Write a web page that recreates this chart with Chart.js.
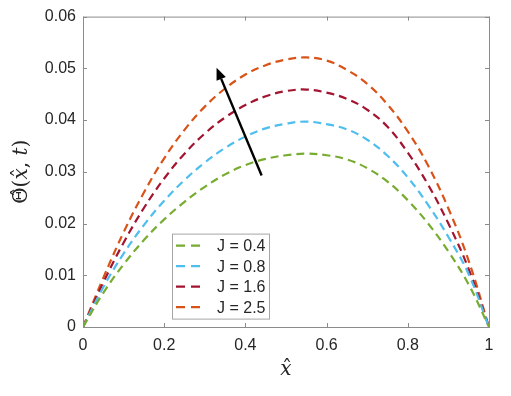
<!DOCTYPE html>
<html>
<head>
<meta charset="utf-8">
<script src="https://cdn.jsdelivr.net/npm/chart.js@4.4.1/dist/chart.umd.min.js"></script>
<style>
  html, body { margin: 0; padding: 0; background: #fff; }
  #wrap { width: 511px; height: 396px; }
</style>
</head>
<body>
<div id="wrap"><canvas id="theta"></canvas></div>
<script>
var xs = [0, 0.05, 0.1, 0.15, 0.2, 0.25, 0.3, 0.35, 0.4, 0.45, 0.5, 0.55, 0.6, 0.65, 0.7, 0.75, 0.8, 0.85, 0.9, 0.95, 1];
var j04 = [0, 0.0066, 0.0121, 0.0168, 0.0208, 0.0242, 0.0271, 0.0295, 0.0313, 0.0325, 0.0332, 0.0335, 0.0332, 0.0324, 0.0307, 0.0281, 0.0245, 0.0200, 0.0146, 0.0082, 0];
var j08 = [0, 0.0077, 0.0142, 0.0197, 0.0244, 0.0284, 0.0318, 0.0346, 0.0368, 0.0384, 0.0393, 0.0397, 0.0392, 0.0382, 0.0362, 0.0331, 0.0289, 0.0236, 0.0174, 0.0102, 0];
var j16 = [0, 0.0086, 0.0163, 0.0230, 0.0287, 0.0335, 0.0374, 0.0405, 0.0429, 0.0446, 0.0456, 0.0459, 0.0453, 0.0441, 0.0420, 0.0387, 0.0337, 0.0275, 0.0200, 0.0112, 0];
var j25 = [0, 0.0095, 0.0183, 0.0260, 0.0326, 0.0381, 0.0426, 0.0461, 0.0488, 0.0506, 0.0517, 0.0521, 0.0515, 0.0497, 0.0470, 0.0430, 0.0378, 0.0312, 0.0229, 0.0128, 0];
var labels = ["J = 0.4", "J = 0.8", "J = 1.6", "J = 2.5"];
var colors = ["#77AC30", "#4DBEEE", "#A2142F", "#D95319"];
var xTicks = [0, 0.2, 0.4, 0.6, 0.8, 1];
var yTicks = [0, 0.01, 0.02, 0.03, 0.04, 0.05, 0.06];
// arrow from tail to head, in data units
var arrowTail = [0.44, 0.0293];
var arrowHead = [0.329, 0.0501];

function pts(ys) {
    return xs.map(function(x, i){ return {x: x, y: ys[i]}; });
}

var series = [j04, j08, j16, j25];
var datasets = series.map(function(ys, i){
    return {
        label: labels[i],
        data: pts(ys),
        borderColor: colors[i],
        borderWidth: 2.2,
        borderDash: [8, 5],
        pointRadius: 0,
        showLine: true,
        fill: false,
        tension: 0.4
    };
});

var axisColor = "#8c8c8c";

var boxPlugin = {
    id: 'box',
    afterDatasetsDraw: function(chart) {
        var c = chart.ctx, a = chart.chartArea;
        var sx = chart.scales.x, sy = chart.scales.y;
        c.save();
        c.strokeStyle = axisColor;
        c.lineWidth = 1;
        c.strokeRect(a.left + 0.5, a.top + 0.5, a.right - a.left, a.bottom - a.top);
        c.beginPath();
        xTicks.forEach(function(v){
            var px = Math.round(sx.getPixelForValue(v)) + 0.5;
            c.moveTo(px, a.bottom); c.lineTo(px, a.bottom - 4);
            c.moveTo(px, a.top); c.lineTo(px, a.top + 4);
        });
        yTicks.forEach(function(v){
            var py = Math.round(sy.getPixelForValue(v)) + 0.5;
            c.moveTo(a.left, py); c.lineTo(a.left + 4, py);
            c.moveTo(a.right, py); c.lineTo(a.right - 4, py);
        });
        c.stroke();

        // arrow
        var x0 = sx.getPixelForValue(arrowTail[0]), y0 = sy.getPixelForValue(arrowTail[1]);
        var x1 = sx.getPixelForValue(arrowHead[0]), y1 = sy.getPixelForValue(arrowHead[1]);
        var ang = Math.atan2(y1 - y0, x1 - x0);
        var hl = 12, hw = 5;
        var bx = x1 - hl * Math.cos(ang), by = y1 - hl * Math.sin(ang);
        c.strokeStyle = "#000";
        c.fillStyle = "#000";
        c.lineWidth = 2.4;
        c.beginPath();
        c.moveTo(x0, y0); c.lineTo(bx, by);
        c.stroke();
        c.beginPath();
        c.moveTo(x1, y1);
        c.lineTo(bx + hw * Math.sin(ang), by - hw * Math.cos(ang));
        c.lineTo(bx - hw * Math.sin(ang), by + hw * Math.cos(ang));
        c.closePath();
        c.fill();

        // legend box inside the axes
        var lx = a.left + 89, ly = a.top + 217, lw = 97, lh = 85;
        c.fillStyle = "#fff";
        c.fillRect(lx, ly, lw, lh);
        c.strokeStyle = "#a6a6a6";
        c.lineWidth = 1;
        c.strokeRect(lx + 0.5, ly + 0.5, lw, lh);
        c.font = "16px 'Liberation Sans', Arial, sans-serif";
        c.textBaseline = "middle";
        chart.data.datasets.forEach(function(ds, i){
            var yy = ly + 12 + i * 20.5;
            c.strokeStyle = ds.borderColor;
            c.lineWidth = 2.2;
            c.setLineDash([9, 6]);
            c.beginPath();
            c.moveTo(lx + 4, yy); c.lineTo(lx + 34, yy);
            c.stroke();
            c.setLineDash([]);
            c.fillStyle = "#262626";
            c.fillText(ds.label, lx + 45, yy + 1);
        });
        c.restore();
    }
};

var ctx = document.getElementById("theta").getContext("2d");
new Chart(ctx, {
    type: 'scatter',
    data: { datasets: datasets },
    options: {
        responsive: true,
        maintainAspectRatio: false,
        animation: false,
        layout: { padding: { left: 0, right: 22, top: 16, bottom: 0 } },
        plugins: { legend: { display: false }, tooltip: { enabled: false } },
        scales: {
            x: {
                type: 'linear', min: 0, max: 1,
                afterBuildTicks: function(s){ s.ticks = xTicks.map(function(v){ return {value: v}; }); },
                afterFit: function(s){ s.height = 69; },
                grid: { display: false, drawTicks: false },
                border: { display: false },
                ticks: {
                    color: "#262626", padding: 9,
                    font: { family: "'Liberation Sans', Arial, sans-serif", size: 16 },
                    callback: function(v){ return String(v); }
                },
                title: {
                    display: true, text: "\uD835\uDC65\u0302", color: "#262626",
                    font: { family: "'DejaVu Serif', 'DejaVu Sans', serif", size: 20 },
                    padding: { top: 0, bottom: 14 }
                }
            },
            y: {
                type: 'linear', min: 0, max: 0.06,
                afterBuildTicks: function(s){ s.ticks = yTicks.map(function(v){ return {value: v}; }); },
                afterFit: function(s){ s.width = 83; },
                grid: { display: false, drawTicks: false },
                border: { display: false },
                ticks: {
                    color: "#262626", padding: 7,
                    font: { family: "'Liberation Sans', Arial, sans-serif", size: 16 },
                    callback: function(v){ return v === 0 ? "0" : v.toFixed(2); }
                },
                title: {
                    display: true, text: "\u0398\u0302(\uD835\uDC65\u0302, \uD835\uDC61)", color: "#262626",
                    font: { family: "'DejaVu Serif', 'DejaVu Sans', serif", size: 20 },
                    padding: { top: 10, bottom: 0 }
                }
            }
        }
    },
    plugins: [boxPlugin]
});
</script>
</body>
</html>
